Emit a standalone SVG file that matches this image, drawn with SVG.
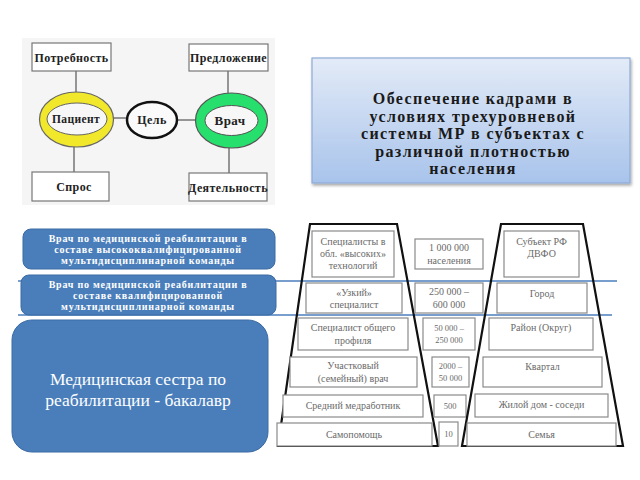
<svg xmlns="http://www.w3.org/2000/svg" width="640" height="480" viewBox="0 0 640 480">
<defs>
<linearGradient id="tg" x1="0" y1="0" x2="0" y2="1">
<stop offset="0" stop-color="#e3ebf7"/>
<stop offset="1" stop-color="#a8c3eb"/>
</linearGradient>
<filter id="sh" x="-5%" y="-5%" width="115%" height="120%">
<feGaussianBlur in="SourceAlpha" stdDeviation="1.5"/>
<feOffset dx="1" dy="2" result="b"/>
<feComponentTransfer><feFuncA type="linear" slope="0.35"/></feComponentTransfer>
<feMerge><feMergeNode/><feMergeNode in="SourceGraphic"/></feMerge>
</filter>
</defs>
<style>
text{font-family:"Liberation Serif","Times New Roman","DejaVu Serif",serif}
.bx{fill:#fff;stroke:#777;stroke-width:1.2}
.lb{font-weight:bold;font-size:12px;letter-spacing:0.4px;fill:#222;text-anchor:middle}
.ln{stroke:#555;stroke-width:1.2;fill:none}
.blue{fill:#4a7ebb;stroke:#3b6aa3;stroke-width:1}
.wt{font-weight:bold;font-size:10px;letter-spacing:0.75px;fill:#fff;text-anchor:middle}
.pb{fill:#fff;stroke:#8a8a8a;stroke-width:1.2}
.pt{font-size:10px;fill:#6a6a6a;text-anchor:middle}
.ps{font-size:8.5px;fill:#6a6a6a;text-anchor:middle}
.tt{font-weight:bold;font-size:16px;letter-spacing:1.4px;fill:#1a1a1a;text-anchor:middle}
.st{font-size:17.5px;fill:#fff;text-anchor:middle}
.tr{fill:none;stroke:#111;stroke-width:2.2}
.hl{stroke:#4a7ebb;stroke-width:1.3}
</style>
<rect width="640" height="480" fill="#fff"/>

<!-- top-left scheme -->
<rect x="22" y="38" width="253" height="167" fill="#f5f5f5"/>
<g id="connectors">
<line class="ln" x1="76" y1="71" x2="76" y2="93"/>
<line class="ln" x1="74" y1="147" x2="74" y2="172"/>
<line class="ln" x1="113" y1="118" x2="127" y2="118"/>
<line class="ln" x1="177" y1="120" x2="196" y2="120"/>
<line class="ln" x1="228" y1="71" x2="228" y2="93"/>
<line class="ln" x1="229" y1="147" x2="229" y2="173"/>
</g>
<g id="n-potrebnost"><rect class="bx" x="32" y="43" width="79" height="28"/><text class="lb" x="71.5" y="62">Потребность</text></g>
<g id="n-predlozhenie"><rect class="bx" x="189" y="44" width="79" height="27"/><text class="lb" x="228.5" y="62">Предложение</text></g>
<g id="n-spros"><rect class="bx" x="32" y="172" width="77" height="29"/><text class="lb" x="74" y="191">Спрос</text></g>
<g id="n-deyatelnost"><rect class="bx" x="189" y="173" width="78" height="28"/><text class="lb" x="228" y="192">Деятельность</text></g>
<g id="n-pacient">
<ellipse cx="76.5" cy="119.5" rx="37" ry="27.5" fill="#f1e72b" stroke="#666" stroke-width="1.2"/>
<ellipse cx="77" cy="119" rx="30" ry="16" fill="#f7f7f7" stroke="#666" stroke-width="1"/>
<text class="lb" x="76" y="123" style="font-size:11.5px">Пациент</text>
</g>
<g id="n-cel">
<ellipse cx="152" cy="120" rx="25" ry="18" fill="#fafafa" stroke="#111" stroke-width="2.5"/>
<text class="lb" x="152" y="124">Цель</text>
</g>
<g id="n-vrach">
<ellipse cx="231.5" cy="120.5" rx="36" ry="27.5" fill="#27df6c" stroke="#555" stroke-width="1.2"/>
<ellipse cx="231.5" cy="120.5" rx="26.5" ry="15" fill="#f7f7f7" stroke="#555" stroke-width="1"/>
<text class="lb" x="230" y="125" style="font-size:13px">Врач</text>
</g>

<!-- title -->
<g id="n-title">
<rect x="312" y="58" width="318" height="125" fill="url(#tg)" stroke="#8eaad6" stroke-width="1.2" filter="url(#sh)"/>
<text class="tt" x="473" y="104">Обеспечение кадрами в</text>
<text class="tt" x="473" y="121.5">условиях  трехуровневой</text>
<text class="tt" x="473" y="139">системы МР в субъектах с</text>
<text class="tt" x="473" y="156.5">различной плотностью</text>
<text class="tt" x="473" y="174">населения</text>
</g>

<!-- horizontal blue lines -->
<line class="hl" x1="18" y1="281" x2="617" y2="281"/>
<line class="hl" x1="18" y1="315" x2="612" y2="315"/>

<!-- left boxes -->
<g id="n-vrach-high">
<rect class="blue" x="23" y="229" width="252" height="40" rx="8"/>
<text class="wt" x="148" y="242">Врач по медицинской реабилитации в</text>
<text class="wt" x="148" y="253">составе высококвалифицированной</text>
<text class="wt" x="148" y="264">мультидисциплинарной команды</text>
</g>
<g id="n-vrach-qual">
<rect class="blue" x="21" y="275" width="255" height="40" rx="8"/>
<text class="wt" x="148" y="288">Врач по медицинской реабилитации в</text>
<text class="wt" x="148" y="299">составе квалифицированной</text>
<text class="wt" x="148" y="310">мультидисциплинарной команды</text>
</g>
<g id="n-sestra">
<rect class="blue" x="12" y="320" width="256" height="132" rx="20"/>
<text class="st" x="138" y="385">Медицинская сестра по</text>
<text class="st" x="138" y="406">реабилитации - бакалавр</text>
</g>

<!-- pyramid: left trapezoid -->
<g id="n-pyr-left">
<polygon class="tr" points="310,224 397,224 438,446 278,446"/>
<rect class="pb" x="312" y="231" width="82" height="46"/>
<text class="pt" x="353" y="245">Специалисты в</text>
<text class="pt" x="353" y="257">обл. «высоких»</text>
<text class="pt" x="353" y="269">технологий</text>
<rect class="pb" x="306" y="283" width="96" height="30"/>
<text class="pt" x="354" y="296">«Узкий»</text>
<text class="pt" x="354" y="308">специалист</text>
<rect class="pb" x="298" y="318" width="110" height="32"/>
<text class="pt" x="353" y="331">Специалист общего</text>
<text class="pt" x="353" y="344">профиля</text>
<rect class="pb" x="290" y="357" width="127" height="30"/>
<text class="pt" x="353" y="369">Участковый</text>
<text class="pt" x="353" y="382">(семейный) врач</text>
<rect class="pb" x="283" y="395" width="140" height="22"/>
<text class="pt" x="353" y="409">Средний медработник</text>
<rect class="pb" x="277" y="423" width="155" height="23"/>
<text class="pt" x="354" y="438">Самопомощь</text>
</g>

<!-- middle column -->
<g id="n-pop">
<rect class="pb" x="415" y="239" width="68" height="30"/>
<text class="pt" x="449" y="251">1 000 000</text>
<text class="pt" x="449" y="264">населения</text>
<rect class="pb" x="415" y="283" width="68" height="30"/>
<text class="pt" x="449" y="295">250 000 –</text>
<text class="pt" x="449" y="308">600 000</text>
<rect class="pb" x="423" y="318" width="52" height="32"/>
<text class="ps" x="449" y="331">50 000 –</text>
<text class="ps" x="449" y="343">250 000</text>
<rect class="pb" x="432" y="357" width="37" height="30"/>
<text class="ps" x="450.5" y="369">2000 –</text>
<text class="ps" x="450.5" y="381">50 000</text>
<rect class="pb" x="434" y="395" width="32" height="22"/>
<text class="ps" x="450" y="409">500</text>
<rect class="pb" x="439" y="422" width="19" height="24"/>
<text class="ps" x="448.5" y="437">10</text>
</g>

<!-- pyramid: right trapezoid -->
<g id="n-pyr-right">
<polygon class="tr" points="501,224 583,224 623,446 462,446"/>
<rect class="pb" x="504" y="231" width="75" height="46"/>
<text class="pt" x="541.5" y="245">Субъект РФ</text>
<text class="pt" x="541.5" y="257">ДВФО</text>
<rect class="pb" x="497" y="283" width="90" height="30"/>
<text class="pt" x="542" y="297">Город</text>
<rect class="pb" x="489" y="318" width="104" height="32"/>
<text class="pt" x="541" y="331">Район (Округ)</text>
<rect class="pb" x="483" y="357" width="119" height="30"/>
<text class="pt" x="542.5" y="370">Квартал</text>
<rect class="pb" x="475" y="394" width="133" height="23"/>
<text class="pt" x="541.5" y="408">Жилой дом - соседи</text>
<rect class="pb" x="467" y="423" width="149" height="23"/>
<text class="pt" x="541.5" y="438">Семья</text>
</g>
</svg>
